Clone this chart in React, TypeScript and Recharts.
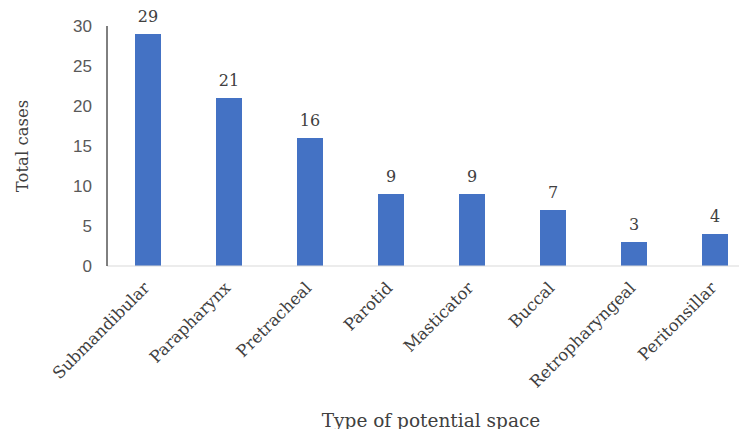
import React from 'react';
import { BarChart, Bar, XAxis, YAxis, LabelList, Label } from 'recharts';

const spaces = ['Submandibular', 'Parapharynx', 'Pretracheal', 'Parotid', 'Masticator', 'Buccal', 'Retropharyngeal', 'Peritonsillar'];
const totalCases = [29, 21, 16, 9, 9, 7, 3, 4];
const yTicks = [0, 5, 10, 15, 20, 25, 30];

const chartData = spaces.map((name, i) => ({ name, value: totalCases[i] }));

const serif = '"DejaVu Serif", serif';
const textColor = '#404040';

function RotatedTick(props: any) {
	const { x, y, payload } = props;
	return (
		<g transform={`translate(${x + 3},${y + 15})`}>
			<text textAnchor='end' transform='rotate(-45)' fontFamily={serif} fontSize={16.5} fill={textColor}>
				{payload.value}
			</text>
		</g>
	);
}

export default function App() {
	return (
		<div style={{ margin: -8, width: 747, height: 437, overflow: 'hidden', background: '#fff' }}>
			<BarChart width={760} height={437} data={chartData} margin={{ top: 26, right: 5, bottom: 0, left: 0 }} barSize={26}>
				<XAxis dataKey='name' axisLine={{ stroke: '#D9D9D9' }} tickLine={false} tick={<RotatedTick />} interval={0} height={171}>
					<Label value='Type of potential space' position='insideBottom' offset={10} fontFamily={serif} fontSize={18.5} fill={textColor} />
				</XAxis>
				<YAxis
					domain={[0, 30]}
					ticks={yTicks}
					width={107}
					axisLine={{ stroke: '#000' }}
					tickLine={false}
					tick={{ fontFamily: '"Liberation Sans", sans-serif', fontSize: 17, fill: '#595959' }}
					tickMargin={9}
				>
					<Label value='Total cases' angle={-90} position='insideLeft' offset={22} fontFamily={serif} fontSize={16.5} fill={textColor} style={{ textAnchor: 'middle' }} />
				</YAxis>
				<Bar dataKey='value' fill='#4472C4' isAnimationActive={false}>
					<LabelList dataKey='value' position='top' offset={12} fontFamily={serif} fontSize={16} fill={textColor} />
				</Bar>
			</BarChart>
		</div>
	);
}
